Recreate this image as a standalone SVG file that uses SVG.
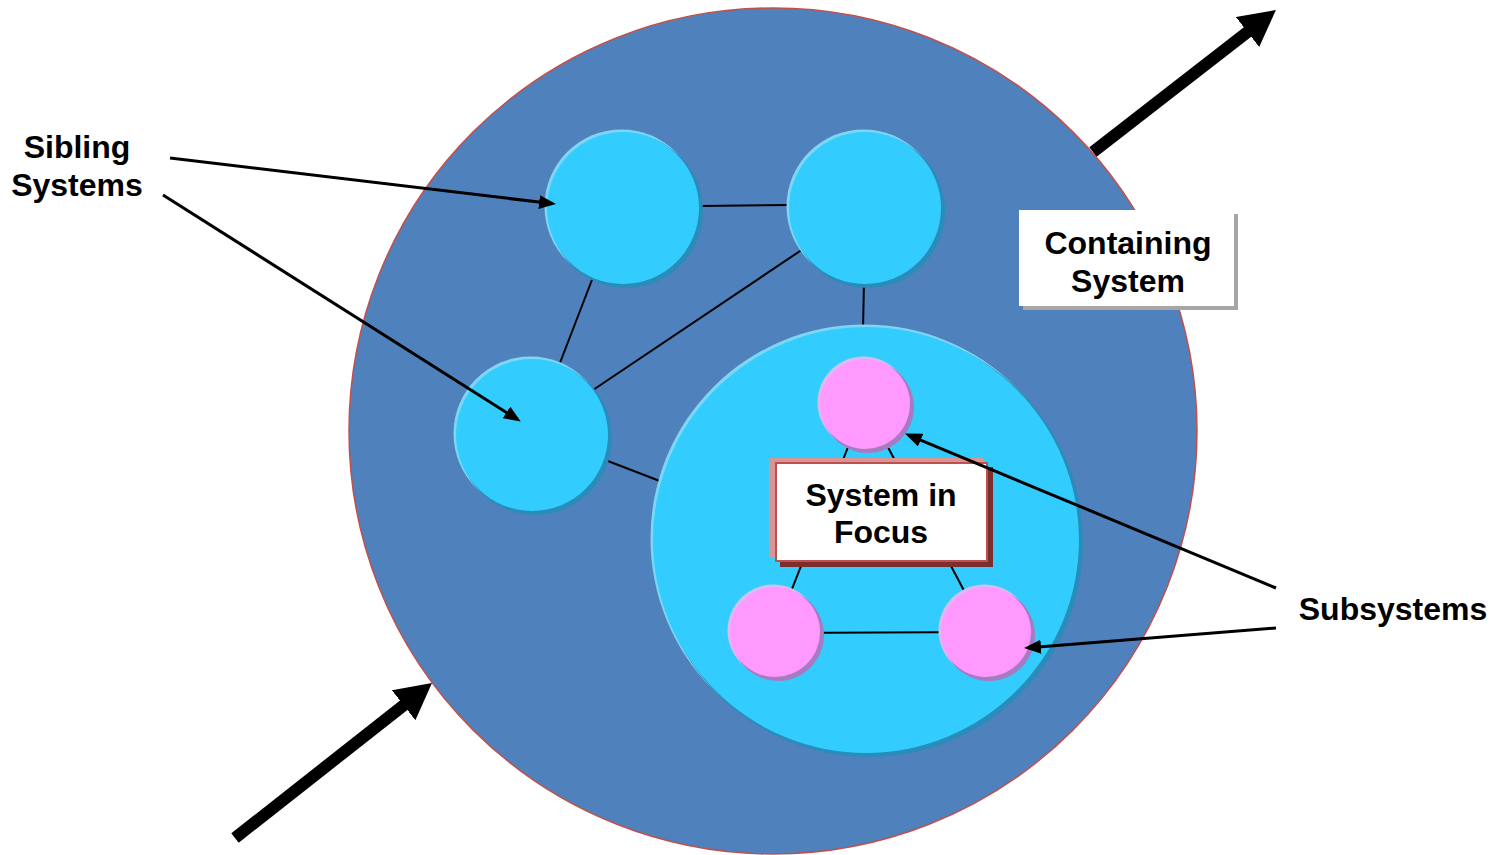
<svg xmlns="http://www.w3.org/2000/svg" width="1493" height="855" viewBox="0 0 1493 855">
  <style>
    .lbl { font-family: "Liberation Sans", Arial, sans-serif; font-weight: bold; font-size: 32px; fill: #000; text-anchor: middle; }
    .link { stroke: #000; stroke-width: 2; fill: none; }
    .ptr { stroke: #000; stroke-width: 3; fill: none; marker-end: url(#head); }
    .flow { stroke: #000; stroke-width: 12; fill: none; marker-end: url(#bighead); }
    .cy-main { fill: #33ccff; }
    .cy-lite { fill: #7fd6f2; }
    .cy-dark { fill: #2a8cb8; }
    .pk-main { fill: #ff99ff; }
    .pk-lite { fill: #d8bdf2; }
    .pk-dark { fill: #a57cc2; }
  </style>
  <defs>
    <marker id="head" markerUnits="userSpaceOnUse" markerWidth="18" markerHeight="14" refX="6" refY="7" orient="auto">
      <path d="M0,0 L17,7 L0,14 z" fill="#000"/>
    </marker>
    <marker id="bighead" markerUnits="userSpaceOnUse" markerWidth="40" markerHeight="40" refX="11" refY="19" orient="auto">
      <path d="M0,0 L36,19 L0,38 z" fill="#000"/>
    </marker>
  </defs>

  <rect width="1493" height="855" fill="#fff"/>

  <!-- environment -->
  <g id="containing-system">
    <ellipse cx="773" cy="431" rx="424" ry="423" fill="#4f81bd" stroke="#c0504d" stroke-width="1.5"/>
  </g>

  <!-- links between sibling systems (drawn under the nodes) -->
  <g id="links">
    <line class="link" x1="700" y1="206" x2="790" y2="205"/>
    <line class="link" x1="864" y1="280" x2="863" y2="330"/>
    <line class="link" x1="595" y1="272" x2="558" y2="368"/>
    <line class="link" x1="806" y1="247" x2="590" y2="392"/>
    <line class="link" x1="600" y1="458" x2="665" y2="483"/>
  </g>

  <g id="sibling-top-left">
    <circle class="cy-lite" cx="621.5" cy="206.5" r="77"/>
    <circle class="cy-dark" cx="626" cy="211" r="77"/>
    <circle class="cy-main" cx="623" cy="208" r="76"/>
  </g>
  <g id="sibling-top-right">
    <circle class="cy-lite" cx="863.5" cy="206.5" r="77"/>
    <circle class="cy-dark" cx="868" cy="211" r="77"/>
    <circle class="cy-main" cx="865" cy="208" r="76"/>
  </g>
  <g id="sibling-left">
    <circle class="cy-lite" cx="530.5" cy="433.5" r="77"/>
    <circle class="cy-dark" cx="535" cy="438" r="77"/>
    <circle class="cy-main" cx="532" cy="435" r="76"/>
  </g>

  <g id="system-in-focus">
    <circle class="cy-lite" cx="864.5" cy="538.5" r="214"/>
    <circle class="cy-dark" cx="869" cy="543" r="214"/>
    <circle class="cy-main" cx="866" cy="540" r="213"/>
  </g>

  <!-- links inside the focus system -->
  <g id="inner-links">
    <line class="link" x1="865" y1="404" x2="775" y2="632"/>
    <line class="link" x1="865" y1="404" x2="986" y2="632"/>
    <line class="link" x1="775" y1="633" x2="986" y2="632"/>
  </g>

  <g id="subsystem-top">
    <circle class="pk-lite" cx="863.5" cy="402.5" r="46"/>
    <circle class="pk-dark" cx="868" cy="407" r="46"/>
    <circle class="pk-main" cx="865" cy="404" r="45"/>
  </g>
  <g id="subsystem-left">
    <circle class="pk-lite" cx="773.5" cy="630.5" r="46"/>
    <circle class="pk-dark" cx="778" cy="635" r="46"/>
    <circle class="pk-main" cx="775" cy="632" r="45"/>
  </g>
  <g id="subsystem-right">
    <circle class="pk-lite" cx="984.5" cy="630.5" r="46"/>
    <circle class="pk-dark" cx="989" cy="635" r="46"/>
    <circle class="pk-main" cx="986" cy="632" r="45"/>
  </g>

  <g id="focus-label">
    <rect x="769" y="458" width="214" height="100" fill="#d99594"/>
    <rect x="780" y="467" width="213" height="100" fill="#7b2e2e"/>
    <rect x="776" y="463" width="211" height="98" fill="#fff" stroke="#c0504d" stroke-width="2"/>
    <text class="lbl" x="881" y="506">System in</text>
    <text class="lbl" x="881" y="543">Focus</text>
  </g>

  <g id="containing-label">
    <rect x="1023" y="214" width="215" height="96" fill="#a6a6a6"/>
    <rect x="1019" y="210" width="215" height="96" fill="#fff"/>
    <text class="lbl" x="1128" y="254">Containing</text>
    <text class="lbl" x="1128" y="292">System</text>
  </g>

  <g id="sibling-label">
    <text class="lbl" x="77" y="158">Sibling</text>
    <text class="lbl" x="77" y="196">Systems</text>
  </g>

  <g id="subsystems-label">
    <text class="lbl" x="1393" y="620">Subsystems</text>
  </g>

  <!-- pointers and input/output flows -->
  <g id="connectors">
    <line class="ptr" x1="170" y1="158" x2="545.1" y2="202.8"/>
    <line class="ptr" x1="163" y1="195" x2="511.5" y2="415.6"/>
    <line class="ptr" x1="1276" y1="588" x2="915.2" y2="437.8"/>
    <line class="ptr" x1="1276" y1="628" x2="1035" y2="647.2"/>
    <line class="flow" x1="235" y1="838" x2="412.3" y2="698.5"/>
    <line class="flow" x1="1093" y1="152" x2="1256.2" y2="25.3"/>
  </g>
</svg>
